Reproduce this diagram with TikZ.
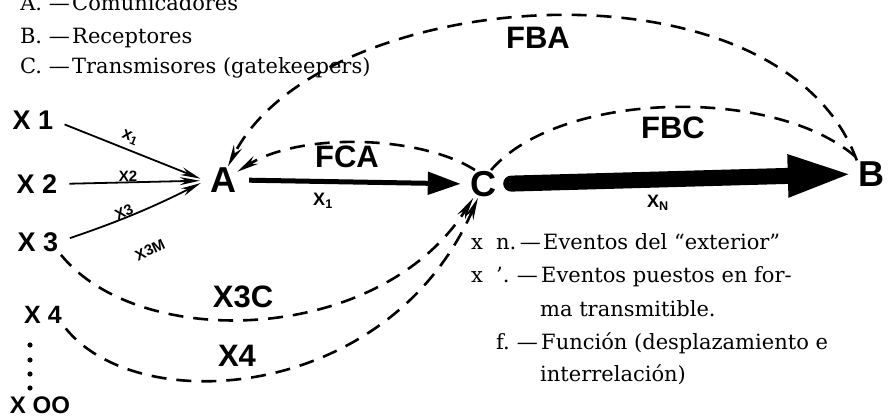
\documentclass[tikz,border=0pt]{standalone}
\usepackage{fontspec}
\setmainfont{DejaVu Serif}
\newfontfamily\lett{Liberation Sans}
\usetikzlibrary{arrows.meta}
\begin{document}
\begin{tikzpicture}[x=1pt,y=-1pt,
 leg/.style={font=\fontsize{21}{23}\selectfont, inner sep=0pt},
 big/.style={font=\lett\bfseries\fontsize{36}{36}\selectfont, inner sep=1pt},
 mid/.style={font=\lett\bfseries\fontsize{31}{31}\selectfont, inner sep=0pt},
 xl/.style={font=\lett\bfseries\fontsize{27}{27}\selectfont, inner sep=0pt},
 sm/.style={font=\lett\bfseries\fontsize{15}{15}\selectfont, inner sep=0pt},
 dashline/.style={line width=2.6pt, dash pattern=on 15pt off 10pt},
 dtip/.style={-{Stealth[length=22pt,width=9pt]}},
 thinarr/.style={line width=1.8pt, -{Stealth[length=20pt,width=8pt]}},
 medarr/.style={line width=5pt, -{Triangle[length=33pt,width=22pt]}},
 heavyarr/.style={line width=16pt, line cap=round, -{Triangle[length=66pt,width=38pt]}}
]
\useasboundingbox (0,0) rectangle (889,419);

% legend left
\node[leg, anchor=base east] (la) at (70,11) {A. —};
\node[leg, anchor=base west] (lat) at (72,11) {Comunicadores};
\node[leg, anchor=base east] (lb) at (70,44) {B. —};
\node[leg, anchor=base west] (lbt) at (72,44) {Receptores};
\node[leg, anchor=base east] (lc) at (70,74) {C. —};
\node[leg, anchor=base west] (lct) at (72,74) {Transmisores (gatekeepers)};

% legend right
\node[leg, anchor=base west] (r1x) at (471,250) {x};
\node[leg, anchor=base west] (r1n) at (496,250) {n.};
\node[leg, anchor=base east] (r1d) at (541,250) {—};
\node[leg, anchor=base west] (r1t) at (543,250) {Eventos del “exterior”};
\node[leg, anchor=base west] (r2x) at (471,283) {x};
\node[leg, anchor=base west] (r2n) at (496,283) {'.};
\node[leg, anchor=base east] (r2d) at (538,283) {—};
\node[leg, anchor=base west] (r2t) at (541,283) {Eventos puestos en for-};
\node[leg, anchor=base west] (r3t) at (540,317) {ma transmitible.};
\node[leg, anchor=base west] (r4n) at (496,350) {f.};
\node[leg, anchor=base east] (r4d) at (538,350) {—};
\node[leg, anchor=base west] (r4t) at (541,350) {Función (desplazamiento e};
\node[leg, anchor=base west] (r5t) at (540,382) {interrelación)};

% main nodes
\node[big] (A) at (223,180) {A};
\node[big] (C) at (483,184) {C};
\node[big] (B) at (871,174) {B};
\node[xl] (X1) at (33,120) {X 1};
\node[xl] (X2) at (37,184) {X 2};
\node[xl] (X3) at (38,242) {X 3};
\node[font=\lett\bfseries\fontsize{25}{25}\selectfont, inner sep=0pt] (X4) at (43,315) {X 4};
\node[font=\lett\bfseries\fontsize{24}{24}\selectfont, inner sep=0pt] (X00) at (40,405) {X OO};
\foreach \yy in {345,360,374,388} \fill (30,\yy) circle (2.6pt);

% inputs to A
\draw[thinarr, shorten <=12pt, shorten >=9pt] (X1.east) -- (A.188);
\draw[thinarr, shorten <=12pt, shorten >=9pt] (X2.east) -- (A.182);
\draw[thinarr, shorten <=12pt, shorten >=9pt] (X3.east) to[bend right=4] (A.176);
\node[sm, font=\lett\bfseries\fontsize{17}{17}\selectfont, rotate=-22] (lx1) at (130,138) {x\textsubscript{1}};
\node[sm] (lx2) at (128,176) {X2};
\node[sm, rotate=25] (lx3) at (124,212) {X3};
\node[sm, rotate=25] (lx3m) at (150,250) {X3M};

% main flow
\draw[medarr, shorten <=12pt, shorten >=8pt] (A.east) -- (C.west);
\draw[heavyarr, shorten <=14pt, shorten >=3pt] (C.east) -- (B.west);
\node[sm, font=\lett\bfseries\fontsize{18}{18}\selectfont] (lxi) at (323,201) {X\textsubscript{1}};
\node[sm, font=\lett\bfseries\fontsize{18}{18}\selectfont] (lxn) at (658,203) {X\textsubscript{N}};

% feedback curves
\draw[dashline, dtip] (C.120) .. controls (420,135) and (300,132) .. (A.30);
\node[mid] (fca) at (347,157) {FCA};
\draw[dashline] (C.60) .. controls (560,90) and (780,85) .. (B.130);
\node[mid] (fbc) at (673,128) {FBC};
\draw[dashline, dtip] (B.north west) .. controls (780,-50) and (320,-15) .. (A.70);
\node[mid] (fba) at (538,38) {FBA};

% X3 and X4 to C
\draw[dashline, dtip, shorten <=4pt] (X3.south east) .. controls (140,352) and (380,345) .. (C.235);
\node[mid] (x3c) at (243,297) {X3C};
\draw[dashline, dtip, shorten <=6pt] (X4.south east) .. controls (140,420) and (390,400) .. (C.250);
\node[mid] (x4c) at (237,356) {X4};
\end{tikzpicture}
\end{document}
